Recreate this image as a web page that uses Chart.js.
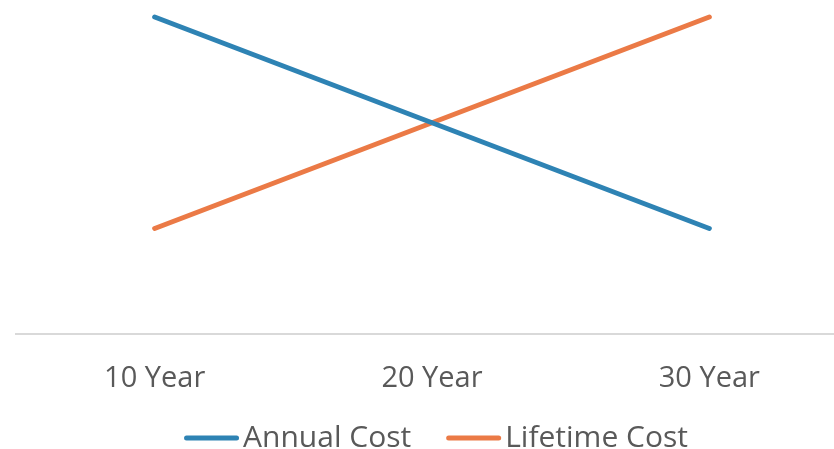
<!DOCTYPE html>
<html>
<head>
<meta charset="utf-8">
<script src="https://cdn.jsdelivr.net/npm/chart.js@4"></script>
<style>
  html, body { margin: 0; padding: 0; background: #ffffff; overflow: hidden; }
  #wrap { width: 864px; height: 449px; position: relative; }
</style>
</head>
<body>
<div id="wrap"><canvas id="c"></canvas></div>
<script>
// Term options and the two cost series
const categories = ["10 Year", "20 Year", "30 Year"];
const annualCost = [3, 2, 1];
const lifetimeCost = [1, 2, 3];
const seriesNames = ["Annual Cost", "Lifetime Cost"];

const BLUE = "#2E83B4";
const ORANGE = "#EB7A46";
const TEXT = "#595959";

// Compact bottom legend: a short rounded stroke followed closely by the series name
const lineLegend = {
  id: "lineLegend",
  afterDraw(chart) {
    const ctx = chart.ctx;
    const swatch = 55, gapText = 4, gapItem = 35;
    ctx.save();
    ctx.font = "30px 'Open Sans'";
    ctx.textBaseline = "middle";
    const items = chart.data.datasets.map(ds => ({
      label: ds.label, color: ds.borderColor, w: ctx.measureText(ds.label).width
    }));
    const total = items.reduce((s, it) => s + swatch + gapText + it.w, 0) + gapItem * (items.length - 1);
    let x = 436 - total / 2;
    const y = 438;
    items.forEach(it => {
      ctx.strokeStyle = it.color;
      ctx.lineWidth = 5;
      ctx.lineCap = "round";
      ctx.beginPath();
      ctx.moveTo(x + 2.5, y);
      ctx.lineTo(x + swatch - 2.5, y);
      ctx.stroke();
      ctx.fillStyle = TEXT;
      ctx.fillText(it.label, x + swatch + gapText, y);
      x += swatch + gapText + it.w + gapItem;
    });
    ctx.restore();
  }
};

new Chart(document.getElementById("c"), {
  type: "line",
  data: {
    labels: categories,
    datasets: [
      { label: seriesNames[0], data: annualCost, borderColor: BLUE, backgroundColor: BLUE, clip: false },
      { label: seriesNames[1], data: lifetimeCost, borderColor: ORANGE, backgroundColor: ORANGE, clip: false }
    ]
  },
  options: {
    responsive: true,
    maintainAspectRatio: false,
    animation: false,
    layout: { padding: { left: 16, right: 16, top: 17, bottom: 34 } },
    elements: {
      line: { borderWidth: 5, tension: 0, borderCapStyle: "round", borderJoinStyle: "round" },
      point: { radius: 0, hoverRadius: 0 }
    },
    scales: {
      x: {
        offset: true,
        grid: { display: false },
        border: { display: true, color: "#D9D9D9", width: 2 },
        ticks: { color: TEXT, font: { family: "Open Sans", size: 29 }, padding: 19 }
      },
      y: {
        display: false,
        min: 0,
        max: 3
      }
    },
    plugins: {
      tooltip: { enabled: false },
      legend: { display: false }
    }
  },
  plugins: [lineLegend]
});
</script>
</body>
</html>
